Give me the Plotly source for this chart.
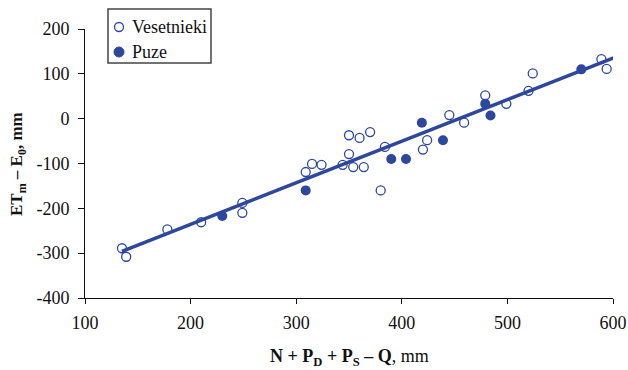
import plotly.graph_objects as go

# Data
ves_x = [135, 139, 178, 210, 249, 249, 309, 315, 324, 344, 350, 350, 354, 360, 364, 370, 380, 384,
         420, 424, 445, 459, 479, 499, 520, 524, 589, 594]
ves_y = [-289, -308, -247, -231, -188, -210, -119, -101, -103, -103, -79, -37, -108, -43, -108, -30, -160, -63,
         -69, -48, 8, -9, 52, 33, 62, 101, 133, 111]

puze_x = [230, 309, 390, 404, 419, 439, 479, 484, 570]
puze_y = [-217, -160, -90, -90, -9, -48, 33, 7, 110]

series_names = ["Vesetnieki", "Puze"]

# Trend line parameters
slope = 0.928
intercept = -421.5
line_x = [135, 602]
line_y = [slope * v + intercept for v in line_x]

x_ticks = [100, 200, 300, 400, 500, 600]
y_ticks = [-400, -300, -200, -100, 0, 100, 200]

blue = "#2D479C"
font_family = "Liberation Serif, Times New Roman, serif"

W, H = 628, 370
ML, MR, MT, MB = 85, 15, 29, 72
PW, PH = W - ML - MR, H - MT - MB


def px(xp):
    return (xp - ML) / PW


def py(yp):
    return (H - MB - yp) / PH


fig = go.Figure()
fig.add_trace(go.Scatter(x=line_x, y=line_y, mode="lines", line=dict(color=blue, width=3.5),
                         showlegend=False, hoverinfo="skip"))
fig.add_trace(go.Scatter(x=ves_x, y=ves_y, mode="markers", name=series_names[0], showlegend=False,
                         marker=dict(symbol="circle-open", size=9, color=blue, line=dict(width=1.3, color=blue))))
fig.add_trace(go.Scatter(x=puze_x, y=puze_y, mode="markers", name=series_names[1], showlegend=False,
                         marker=dict(symbol="circle", size=10, color=blue)))

shapes = [
    # legend box
    dict(type="rect", xref="paper", yref="paper", x0=px(108), x1=px(211), y0=py(63), y1=py(9),
         line=dict(color="#444", width=1.5), fillcolor="white", layer="above"),
    # legend symbols
    dict(type="circle", xref="paper", yref="paper", x0=px(114.5), x1=px(123.5), y0=py(31.5), y1=py(22.5),
         line=dict(color=blue, width=1.3), fillcolor="white", layer="above"),
    dict(type="circle", xref="paper", yref="paper", x0=px(114), x1=px(124), y0=py(57), y1=py(47),
         line=dict(color=blue, width=1), fillcolor=blue, layer="above"),
]

annotations = [
    dict(text=series_names[0], xref="paper", yref="paper", x=px(130), y=py(27), xanchor="left", yanchor="middle",
         showarrow=False, font=dict(size=18)),
    dict(text=series_names[1], xref="paper", yref="paper", x=px(130), y=py(52), xanchor="left", yanchor="middle",
         showarrow=False, font=dict(size=18)),
    dict(text="<b>N + P<sub>D</sub> + P<sub>S</sub> – Q</b>, mm", xref="paper", yref="paper",
         x=0.5, y=py(357), xanchor="center", yanchor="middle", showarrow=False, font=dict(size=18)),
    dict(text="<b>ET<sub>m</sub> – E<sub>0</sub>, mm</b>", xref="paper", yref="paper",
         x=px(18), y=py(164), xanchor="center", yanchor="middle", textangle=-90, showarrow=False,
         font=dict(size=17)),
]

fig.update_layout(
    width=W, height=H,
    margin=dict(l=ML, r=MR, t=MT, b=MB, autoexpand=False),
    paper_bgcolor="white", plot_bgcolor="white",
    font=dict(family=font_family, size=18, color="#111"),
    showlegend=False,
    shapes=shapes,
    annotations=annotations,
    xaxis=dict(range=[100, 600], tickvals=x_ticks, ticktext=[str(v) for v in x_ticks],
               showgrid=False, zeroline=False, showline=True, linecolor="#111", linewidth=1,
               ticks="outside", ticklen=5, tickcolor="#111", ticklabelstandoff=3, automargin=False),
    yaxis=dict(range=[-400, 200], tickvals=y_ticks, ticktext=[str(v) for v in y_ticks],
               showgrid=False, zeroline=False, showline=True, linecolor="#111", linewidth=1,
               ticks="outside", ticklen=6, tickcolor="#111", ticklabelstandoff=5, automargin=False),
)

fig.write_html("out.html")
